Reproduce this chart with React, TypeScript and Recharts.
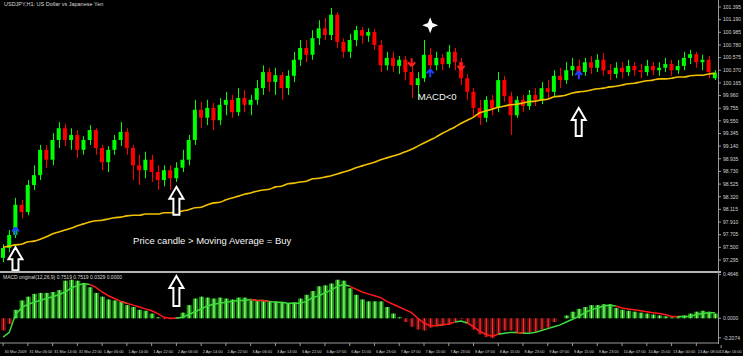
import { ComposedChart, Bar, Line, XAxis, YAxis, ReferenceDot } from "recharts"

// USDJPY H1 resampled to 2-hour candles
const opens = [
  97.33, 97.49, 97.7, 98.19, 98.07, 98.51, 98.67, 99.08, 98.92, 99.24,
  99.43, 99.24, 99.32, 99.08, 99.24, 99.4, 99.11, 98.88, 99.08, 99.24,
  99.37, 99.11, 98.83, 98.75, 98.92, 98.72, 98.59, 98.75, 98.62, 98.79,
  98.92, 99.24, 99.73, 99.6, 99.76, 99.56, 99.81, 99.89, 99.69, 99.92,
  99.81, 99.89, 100.08, 100.34, 100.18, 100.29, 100.08, 100.28, 100.54, 100.73,
  100.62, 100.89, 101.05, 100.94, 101.27, 100.83, 100.67, 100.86, 101.02, 100.93,
  100.99, 100.78, 100.45, 100.57, 100.44, 100.54, 100.34, 100.13, 100.24, 100.62,
  100.45, 100.57, 100.47, 100.67, 100.5, 100.24, 100.02, 99.76, 99.6, 99.89,
  99.76, 100.21, 99.95, 99.64, 99.89, 99.79, 99.97, 99.89, 100.08, 100.02,
  100.28, 100.21, 100.37, 100.44, 100.34, 100.5, 100.41, 100.54, 100.37, 100.31,
  100.41, 100.34, 100.44, 100.37, 100.34, 100.44, 100.37, 100.41, 100.47, 100.37,
  100.44, 100.57, 100.63, 100.5, 100.54, 100.24,
]
const highs = [
  97.55, 97.78, 98.3, 98.27, 98.59, 98.83, 99.16, 99.16, 99.35, 99.53,
  99.5, 99.43, 99.4, 99.3, 99.48, 99.43, 99.16, 99.14, 99.32, 99.53,
  99.43, 99.16, 99.0, 99.05, 99.0, 98.83, 98.83, 98.83, 98.88, 99.08,
  99.32, 99.89, 99.86, 99.89, 99.84, 99.92, 100.02, 99.97, 100.08, 100.05,
  99.97, 100.21, 100.45, 100.41, 100.41, 100.34, 100.37, 100.67, 100.86, 100.86,
  101.02, 101.18, 101.22, 101.38, 101.31, 100.89, 100.96, 101.09, 101.07, 101.05,
  101.04, 100.86, 100.67, 100.67, 100.6, 100.6, 100.44, 100.34, 100.86, 100.73,
  100.67, 100.63, 100.78, 100.73, 100.57, 100.31, 100.08, 99.89, 99.95, 99.97,
  100.34, 100.28, 100.02, 99.95, 99.97, 100.05, 100.08, 100.18, 100.21, 100.37,
  100.41, 100.5, 100.57, 100.54, 100.57, 100.6, 100.63, 100.65, 100.47, 100.5,
  100.5, 100.54, 100.5, 100.47, 100.54, 100.5, 100.5, 100.57, 100.54, 100.54,
  100.67, 100.7, 100.67, 100.62, 100.6, 100.37,
]
const lows = [
  97.26, 97.42, 97.65, 97.97, 98.02, 98.43, 98.59, 98.79, 98.83, 99.11,
  99.14, 99.08, 98.95, 99.0, 99.16, 99.0, 98.75, 98.72, 99.0, 99.14,
  99.0, 98.59, 98.51, 98.62, 98.56, 98.43, 98.49, 98.43, 98.56, 98.72,
  98.83, 99.16, 99.43, 99.48, 99.4, 99.48, 99.64, 99.6, 99.63, 99.69,
  99.64, 99.81, 99.97, 100.02, 99.97, 99.89, 99.97, 100.18, 100.44, 100.5,
  100.54, 100.78, 100.86, 100.86, 100.73, 100.57, 100.57, 100.76, 100.8, 100.83,
  100.7, 100.34, 100.37, 100.34, 100.31, 100.21, 99.92, 99.89, 100.18, 100.34,
  100.37, 100.37, 100.41, 100.37, 100.13, 99.89, 99.6, 99.48, 99.53, 99.64,
  99.69, 99.86, 99.32, 99.6, 99.69, 99.73, 99.79, 99.82, 99.92, 99.95,
  100.08, 100.15, 100.28, 100.24, 100.28, 100.31, 100.34, 100.28, 100.21, 100.24,
  100.24, 100.28, 100.28, 100.24, 100.28, 100.29, 100.28, 100.34, 100.28, 100.31,
  100.37, 100.47, 100.41, 100.37, 100.24, 100.21,
]
const closes = [
  97.49, 97.7, 98.19, 98.07, 98.51, 98.67, 99.08, 98.92, 99.24, 99.43,
  99.24, 99.32, 99.08, 99.24, 99.4, 99.11, 98.88, 99.08, 99.24, 99.37,
  99.11, 98.83, 98.75, 98.92, 98.72, 98.59, 98.75, 98.62, 98.79, 98.92,
  99.24, 99.73, 99.6, 99.76, 99.56, 99.81, 99.89, 99.69, 99.92, 99.81,
  99.89, 100.08, 100.34, 100.18, 100.29, 100.08, 100.28, 100.54, 100.73, 100.62,
  100.89, 101.05, 100.94, 101.27, 100.83, 100.67, 100.86, 101.02, 100.93, 100.99,
  100.78, 100.45, 100.57, 100.44, 100.54, 100.34, 100.13, 100.24, 100.62, 100.45,
  100.57, 100.47, 100.67, 100.5, 100.24, 100.02, 99.76, 99.6, 99.89, 99.76,
  100.21, 99.95, 99.64, 99.89, 99.79, 99.97, 99.89, 100.08, 100.02, 100.28,
  100.21, 100.37, 100.44, 100.34, 100.5, 100.41, 100.54, 100.37, 100.31, 100.41,
  100.34, 100.44, 100.37, 100.34, 100.44, 100.37, 100.41, 100.47, 100.37, 100.44,
  100.57, 100.63, 100.5, 100.54, 100.34, 100.33,
]
const maValues = [
  97.5, 97.52, 97.54, 97.55, 97.59, 97.6, 97.63, 97.67, 97.72, 97.75,
  97.78, 97.81, 97.85, 97.88, 97.91, 97.93, 97.94, 97.96, 97.98, 97.99,
  98.01, 98.02, 98.02, 98.04, 98.04, 98.04, 98.06, 98.06, 98.07, 98.09,
  98.11, 98.14, 98.15, 98.19, 98.22, 98.23, 98.27, 98.3, 98.33, 98.36,
  98.38, 98.41, 98.43, 98.44, 98.48, 98.49, 98.53, 98.54, 98.56, 98.57,
  98.61, 98.62, 98.64, 98.66, 98.69, 98.72, 98.75, 98.79, 98.82, 98.85,
  98.88, 98.92, 98.95, 98.98, 99.01, 99.05, 99.09, 99.14, 99.19, 99.24,
  99.29, 99.35, 99.4, 99.45, 99.51, 99.56, 99.61, 99.68, 99.71, 99.74,
  99.77, 99.79, 99.81, 99.82, 99.84, 99.86, 99.87, 99.89, 99.9, 99.94,
  99.95, 99.97, 100.0, 100.02, 100.03, 100.05, 100.07, 100.08, 100.1, 100.11,
  100.13, 100.15, 100.16, 100.18, 100.2, 100.21, 100.23, 100.23, 100.24, 100.26,
  100.26, 100.28, 100.29, 100.29, 100.31, 100.32,
]
const macdHist = [
  -0.13, -0.06, 0.09, 0.19, 0.23, 0.26, 0.27, 0.27, 0.28, 0.3,
  0.4, 0.41, 0.4, 0.37, 0.33, 0.27, 0.23, 0.2, 0.19, 0.18,
  0.14, 0.12, 0.09, 0.08, 0.05, 0.01, -0.01, -0.01, 0.01, 0.06,
  0.14, 0.21, 0.23, 0.22, 0.21, 0.22, 0.21, 0.2, 0.22, 0.22,
  0.19, 0.19, 0.18, 0.18, 0.18, 0.17, 0.16, 0.17, 0.21, 0.25,
  0.29, 0.34, 0.35, 0.37, 0.41, 0.4, 0.32, 0.25, 0.2, 0.18,
  0.18, 0.18, 0.12, 0.05, 0.01, -0.04, -0.09, -0.12, -0.13, -0.1,
  -0.08, -0.08, -0.07, -0.03, -0.01, -0.06, -0.12, -0.17, -0.2, -0.21,
  -0.17, -0.13, -0.13, -0.16, -0.16, -0.15, -0.15, -0.12, -0.1, -0.04,
  0.0, 0.03, 0.07, 0.1, 0.12, 0.14, 0.14, 0.15, 0.15, 0.11,
  0.09, 0.08, 0.07, 0.06, 0.05, 0.04, 0.03, 0.02, 0.01, 0.02,
  0.03, 0.05, 0.07, 0.08, 0.07, 0.05,
]
const macdSignal = [
  -0.2, -0.15, 0.04, 0.11, 0.15, 0.17, 0.19, 0.21, 0.23, 0.25,
  0.28, 0.32, 0.35, 0.37, 0.36, 0.33, 0.28, 0.24, 0.21, 0.18,
  0.16, 0.14, 0.12, 0.1, 0.08, 0.05, 0.01, 0.0, 0.0, 0.01,
  0.04, 0.07, 0.1, 0.13, 0.15, 0.16, 0.17, 0.18, 0.19, 0.19,
  0.2, 0.19, 0.19, 0.18, 0.17, 0.17, 0.16, 0.16, 0.16, 0.18,
  0.22, 0.24, 0.27, 0.3, 0.34, 0.36, 0.34, 0.31, 0.28, 0.26,
  0.24, 0.22, 0.18, 0.15, 0.12, 0.09, 0.06, 0.0, -0.05, -0.08,
  -0.08, -0.07, -0.06, -0.04, -0.03, -0.05, -0.09, -0.14, -0.17, -0.19,
  -0.17, -0.16, -0.15, -0.15, -0.16, -0.16, -0.15, -0.13, -0.11, -0.09,
  -0.07, -0.04, -0.01, 0.02, 0.06, 0.09, 0.11, 0.13, 0.14, 0.13,
  0.11, 0.1, 0.09, 0.08, 0.07, 0.06, 0.05, 0.04, 0.02, 0.02,
  0.02, 0.02, 0.04, 0.05, 0.06, 0.06,
]
// one label every 4 bars (8 hours)
const timeLabels = [
  "30 Mar 2009", "31 Mar 06:00", "31 Mar 14:00", "31 Mar 22:00", "1 Apr 06:00",
  "1 Apr 14:00", "1 Apr 22:00", "2 Apr 06:00", "2 Apr 14:00", "2 Apr 22:00",
  "3 Apr 06:00", "3 Apr 14:00", "3 Apr 22:00", "6 Apr 07:00", "6 Apr 15:00",
  "6 Apr 23:00", "7 Apr 07:00", "7 Apr 15:00", "7 Apr 23:00", "8 Apr 07:00",
  "8 Apr 15:00", "8 Apr 23:00", "9 Apr 07:00", "9 Apr 15:00", "9 Apr 23:00",
  "10 Apr 07:00", "10 Apr 15:00", "13 Apr 00:00", "13 Apr 08:00", "13 Apr 16:00",
]
const priceTicks = [
  101.395, 101.19, 100.985, 100.78, 100.575, 100.37, 100.165, 99.96, 99.755, 99.55,
  99.345, 99.14, 98.935, 98.73, 98.525, 98.32, 98.115, 97.91, 97.705, 97.5, 97.295,
]
const macdTicks = [0.4646, 0, -0.2074]

// chart annotations (bar index + price level)
const buyArrowBars = [2, 28, 93]
const buyArrowPrices = [97.5, 98.48, 99.76]
const sellMarkBars = [66, 74]
const sellMarkPrices = [100.5, 100.44]
const buyMarkBars = [2, 69, 93]
const buyMarkPrices = [97.76, 100.32, 100.29]

const N = closes.length
const PLOT_W = 718
const SLOT = PLOT_W / N
const AXIS_COLOR = "#9a9a9a"
const LABEL_COLOR = "#d4d4d4"
const FONT = "'Liberation Sans', Arial, sans-serif"

const priceData = closes.map((c, i) => ({
  i,
  open: opens[i],
  high: highs[i],
  low: lows[i],
  close: c,
  ma: maValues[i],
}))

const macdData = macdHist.map((h, i) => {
  const up = h >= macdSignal[i]
  const prevUp = i > 0 ? macdHist[i - 1] >= macdSignal[i - 1] : up
  return {
    i,
    hist: h,
    sigUp: up || prevUp ? macdSignal[i] : null,
    sigDn: !up || !prevUp ? macdSignal[i] : null,
  }
})

function Candle(props: any) {
  const { x, y, width, height, payload } = props
  const { open, high, low, close } = payload
  const top = Math.min(y, y + height)
  const h = Math.abs(height)
  const k = high === low ? 0 : h / (high - low)
  const bodyTop = top + (high - Math.max(open, close)) * k
  const bodyBot = top + (high - Math.min(open, close)) * k
  const color = close >= open ? "#00ff00" : "#ff0000"
  const cx = Math.round(x + width / 2) + 0.5
  return (
    <g>
      <line x1={cx} x2={cx} y1={top} y2={top + h} stroke={color} strokeWidth={1} />
      <rect x={x} y={bodyTop} width={width} height={Math.max(1, bodyBot - bodyTop)} fill={color} />
    </g>
  )
}

function HistBar(props: any) {
  const { x, y, width, height, payload } = props
  const top = Math.min(y, y + height)
  const h = Math.abs(height)
  const pos = payload.hist >= 0
  return (
    <g>
      <rect x={x} y={top} width={width} height={h} fill={pos ? "#1a9a1c" : "#5c0d0d"} />
      <rect x={x + width / 2 - 0.6} y={top} width={1.2} height={h} fill={pos ? "#a6ff7a" : "#ff3030"} />
    </g>
  )
}

function HollowArrow(len: number) {
  return (props: any) => {
    const { cx, cy } = props
    const d = `M${cx},${cy} L${cx + 7},${cy + 12} L${cx + 3},${cy + 12} L${cx + 3},${cy + len} L${cx - 3},${cy + len} L${cx - 3},${cy + 12} L${cx - 7},${cy + 12} Z`
    return <path d={d} fill="#000" stroke="#fff" strokeWidth={2} strokeLinejoin="miter" />
  }
}

function Star(props: any) {
  const { cx, cy } = props
  const r = 8
  const s = 2.2
  const d = `M${cx},${cy - r} L${cx + s},${cy - s} L${cx + r},${cy} L${cx + s},${cy + s} L${cx},${cy + r} L${cx - s},${cy + s} L${cx - r},${cy} L${cx - s},${cy - s} Z`
  return <path d={d} fill="#fff" />
}

function SmallArrow(color: string, down: boolean) {
  return (props: any) => {
    const { cx, cy } = props
    const dir = down ? 1 : -1
    const d = `M${cx},${cy + 4 * dir} L${cx - 3.5},${cy} M${cx},${cy + 4 * dir} L${cx + 3.5},${cy} M${cx},${cy + 4 * dir} L${cx},${cy - 4 * dir}`
    return <path d={d} stroke={color} strokeWidth={2} fill="none" />
  }
}

function TextMark(text: string) {
  return (props: any) => (
    <text x={props.cx} y={props.cy} fill="#f4f4f4" fontSize={9.5} fontFamily={FONT}>
      {text}
    </text>
  )
}

function TimeTick(props: any) {
  const { x, y, payload } = props
  const k = payload.value / 4
  const last = k === timeLabels.length - 2
  return (
    <g fontSize={3.9} fontFamily={FONT} fill={LABEL_COLOR}>
      <text x={x + 1.5} y={y + 4.5}>{timeLabels[k]}</text>
      {last && (
        <g>
          <line x1={x + 4 * SLOT} x2={x + 4 * SLOT} y1={y - 3} y2={y} stroke={AXIS_COLOR} />
          <text x={x + 4 * SLOT + 20.5} y={y + 4.5} textAnchor="end">{timeLabels[k + 1]}</text>
        </g>
      )}
    </g>
  )
}

export default function App() {
  const tickStyle = { fill: LABEL_COLOR, fontSize: 5, fontFamily: FONT }
  return (
    <div style={{ position: "absolute", left: 0, top: 0, width: 743, height: 356, background: "#000", overflow: "hidden" }}>
      <div style={{ position: "absolute", left: 4, top: 1, color: "#d8d8d8", fontSize: 5.5, fontFamily: FONT }}>
        USDJPY,H1: US Dollar vs Japanese Yen
      </div>
      <div style={{ position: "absolute", left: 0, top: 0 }}>
        <ComposedChart width={743} height={272} data={priceData} margin={{ top: 2, right: 0, bottom: 4, left: 0 }} barCategoryGap={0}>
          <XAxis dataKey="i" hide />
          <YAxis
            orientation="right"
            width={25}
            domain={[97.165, 101.476]}
            ticks={priceTicks}
            interval={0}
            allowDataOverflow
            tickFormatter={(v: number) => v.toFixed(3)}
            tick={tickStyle}
            tickSize={3}
            tickLine={{ stroke: AXIS_COLOR }}
            axisLine={false}
          />
          <Bar dataKey={(d: any) => [d.low, d.high]} barSize={4} shape={(p: any) => <Candle {...p} />} isAnimationActive={false} />
          <Line dataKey="ma" type="monotone" stroke="#f2c200" strokeWidth={1.6} dot={false} isAnimationActive={false} />
          {buyArrowBars.map((b, n) => (
            <ReferenceDot key={"ba" + n} x={b} y={buyArrowPrices[n]} shape={HollowArrow(n === 0 ? 23 : 28)} ifOverflow="visible" />
          ))}
          {sellMarkBars.map((b, n) => (
            <ReferenceDot key={"s" + n} x={b} y={sellMarkPrices[n]} shape={SmallArrow("#ff2020", true)} />
          ))}
          {buyMarkBars.map((b, n) => (
            <ReferenceDot key={"b" + n} x={b} y={buyMarkPrices[n]} shape={SmallArrow("#2040ff", false)} />
          ))}
          <ReferenceDot x={69} y={101.1} shape={Star} />
          <ReferenceDot x={21} y={97.55} shape={TextMark("Price candle > Moving Average = Buy")} />
          <ReferenceDot x={67} y={99.89} shape={TextMark("MACD<0")} />
        </ComposedChart>
      </div>
      <div style={{ position: "absolute", left: 0, top: 271, width: 721, height: 2, background: "#b4b4b4" }} />
      <div style={{ position: "absolute", left: 718, top: 0, width: 1, height: 344, background: AXIS_COLOR }} />
      <div style={{ position: "absolute", left: 0, top: 272 }}>
        <ComposedChart width={743} height={84} data={macdData} margin={{ top: 1, right: 0, bottom: 0, left: 0 }} barCategoryGap={0}>
          <XAxis
            dataKey="i"
            height={13}
            ticks={timeLabels.slice(0, -1).map((_, k) => k * 4)}
            interval={0}
            tick={(p: any) => <TimeTick {...p} />}
            tickSize={3}
            tickLine={{ stroke: AXIS_COLOR }}
            axisLine={{ stroke: AXIS_COLOR }}
          />
          <YAxis
            orientation="right"
            width={25}
            domain={[-0.263, 0.482]}
            ticks={macdTicks}
            interval={0}
            allowDataOverflow
            tickFormatter={(v: number) => v.toFixed(4)}
            tick={tickStyle}
            tickSize={3}
            tickLine={{ stroke: AXIS_COLOR }}
            axisLine={false}
          />
          <Bar dataKey="hist" barSize={5} shape={(p: any) => <HistBar {...p} />} isAnimationActive={false} />
          <Line dataKey="sigUp" stroke="#3ddc3d" strokeWidth={1.5} dot={false} isAnimationActive={false} connectNulls={false} />
          <Line dataKey="sigDn" stroke="#ff1a1a" strokeWidth={1.5} dot={false} isAnimationActive={false} connectNulls={false} />
          <ReferenceDot x={28} y={0.45} shape={HollowArrow(30)} ifOverflow="visible" />
        </ComposedChart>
      </div>
      <div style={{ position: "absolute", left: 3, top: 274, color: "#d8d8d8", fontSize: 5, fontFamily: FONT }}>
        MACD original(12,26,9) 0.7519 0.7519 0.0329 0.0000
      </div>
    </div>
  )
}
